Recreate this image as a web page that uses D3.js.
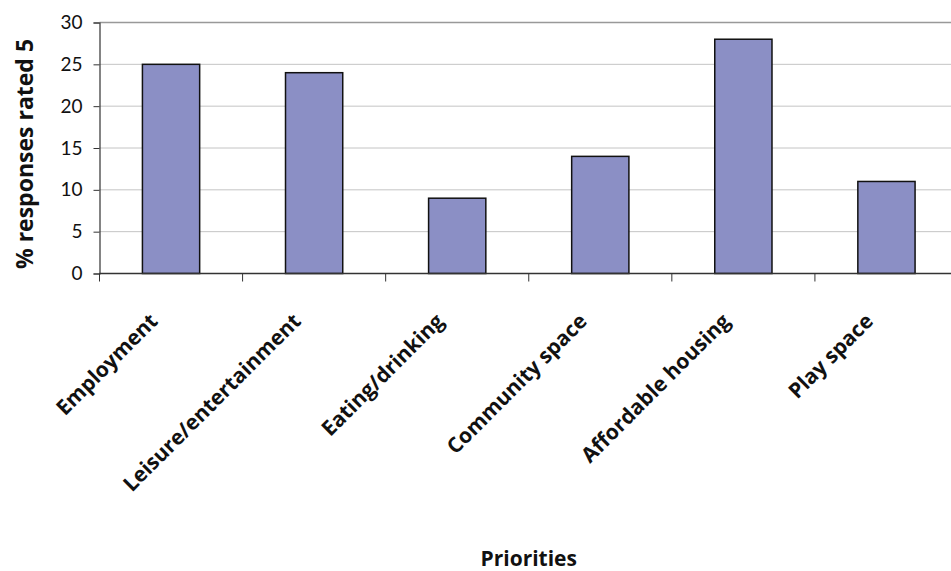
<!DOCTYPE html>
<html><head><meta charset="utf-8">
<script src="https://cdn.jsdelivr.net/npm/d3@7"></script>
<style>body{margin:0;background:#fff;} svg{display:block;}</style>
</head><body>
<svg id="c" width="951" height="571"></svg>
<script>
const categories = ["Employment","Leisure/entertainment","Eating/drinking","Community space","Affordable housing","Play space"];
const values = [25, 24, 9, 14, 28, 11];
const yTicks = [0,5,10,15,20,25,30];
const yTitle = "% responses rated 5";
const xTitle = "Priorities";

(function(){
const svg = d3.select("#c");
const pL = 99.5, pR = 958, pT = 22.5, pB = 273.5;
const x = d3.scaleBand().domain(categories).range([pL, pR]).padding(0);
const y = d3.scaleLinear().domain([0,30]).range([pB, pT]);
const font = "Lato, 'Open Sans', sans-serif";
const bfont = "'Open Sans', Lato, sans-serif";

// gridlines
svg.append("g").selectAll("line").data(yTicks.filter(d=>d>0)).join("line")
  .attr("x1", pL).attr("x2", pR)
  .attr("y1", d=>y(d)).attr("y2", d=>y(d))
  .attr("stroke", d=> d===30 ? "#999" : "#c4c4c4").attr("stroke-width", d=> d===30?1.5:1);

// bars
const bw = x.bandwidth()*0.4;
svg.append("g").selectAll("rect").data(values).join("rect")
  .attr("x", (d,i)=> x(categories[i]) + x.bandwidth()/2 - bw/2)
  .attr("y", d=>y(d)).attr("width", bw).attr("height", d=>y(0)-y(d))
  .attr("fill", "#8b8fc5").attr("stroke", "#111").attr("stroke-width", 1.5);

// y axis
const ya = svg.append("g").attr("transform", `translate(${pL},0)`)
  .call(d3.axisLeft(y).tickValues(yTicks).tickSize(6).tickPadding(11));
ya.select(".domain").attr("stroke", "#333").attr("stroke-width", 1.2);
ya.selectAll(".tick line").attr("stroke", "#333");
ya.selectAll(".tick text").attr("font-family", font).attr("font-size", 19).attr("fill", "#111");

// x axis
const xa = svg.append("g").attr("transform", `translate(0,${pB})`)
  .call(d3.axisBottom(x).tickSize(0).tickFormat(""));
xa.select(".domain").attr("stroke", "#333").attr("stroke-width", 1.5).attr("d", `M${pL},0H${pR}`);
svg.append("g").selectAll("line").data(categories).join("line")
  .attr("x1", d=>x(d)).attr("x2", d=>x(d))
  .attr("y1", pB).attr("y2", pB+8)
  .attr("stroke", "#333").attr("stroke-width", 1);

// x labels
svg.append("g").selectAll("text").data(categories).join("text")
  .attr("transform", d=>`translate(${x(d)+x.bandwidth()/2-12},${pB+49}) rotate(-45)`)
  .attr("text-anchor", "end")
  .attr("font-family", bfont).attr("font-weight", "bold").attr("font-size", 21).attr("fill", "#111")
  .text(d=>d);

// titles
svg.append("text").attr("transform", `translate(33,154) rotate(-90)`)
  .attr("text-anchor", "middle").attr("font-family", bfont).attr("font-weight", "bold")
  .attr("font-size", 23).attr("fill", "#111").text(yTitle);
svg.append("text").attr("x", (pL+pR)/2).attr("y", 566)
  .attr("text-anchor", "middle").attr("font-family", bfont).attr("font-weight", "bold")
  .attr("font-size", 21).attr("fill", "#111").text(xTitle);
})();
</script>
</body></html>
